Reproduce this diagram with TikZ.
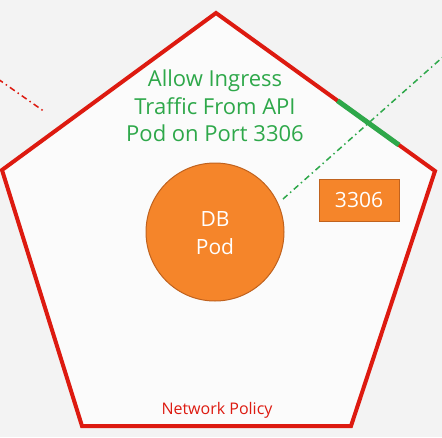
\documentclass[tikz,border=0pt]{standalone}
\usepackage{fontspec}
\setmainfont{Open Sans}
\usetikzlibrary{calc}
\definecolor{bg}{HTML}{F3F3F3}
\definecolor{inner}{HTML}{FBFBFB}
\definecolor{polred}{HTML}{DD1A10}
\definecolor{grn}{HTML}{2EA84A}
\definecolor{podor}{HTML}{F5852A}
\definecolor{podedge}{HTML}{C0621E}
\begin{document}
\begin{tikzpicture}[x=1pt,y=-1pt,
  lbl/.style={inner sep=0pt, align=center},
  dashdot/.style={dash pattern=on 6pt off 3.5pt on 1.5pt off 3.5pt, line width=1.5pt}]
\useasboundingbox (0,0) rectangle (442,437);
\fill[bg] (0,0) rectangle (442,437);
% pentagon
\coordinate (pt) at (216,13);
\coordinate (pr) at (435,171);
\coordinate (pbr) at (351,426);
\coordinate (pbl) at (82,426);
\coordinate (pl) at (2,170);
\draw[polred, fill=inner, line width=4pt, line join=miter] (pt) -- (pr) -- (pbr) -- (pbl) -- (pl) -- cycle;
% green port segment on edge
\coordinate (gs) at ($(pt)!0.555!(pr)$);
\coordinate (ge) at ($(pt)!0.835!(pr)$);
\draw[grn, line width=5pt] (gs) -- (ge);
% dash-dot lines
\coordinate (ga) at (283,199);
\coordinate (gb) at (444,56);
\draw[grn, dashdot] (ga) -- (gb);
\coordinate (ra) at (-2,79);
\coordinate (rb) at (45,112);
\draw[polred, dashdot] (ra) -- (rb);
% pod
\node[circle, minimum size=138pt, fill=podor, draw=podedge, line width=1pt, inner sep=0pt] (pod) at (215,232) {};
\node[lbl, text=white, font=\fontsize{21}{28}\selectfont] (podlbl) at (215,233) {DB\\Pod};
% port box
\node[draw=podedge, fill=podor, line width=1pt, minimum width=80pt, minimum height=42pt, inner sep=0pt, text=white, font=\fontsize{21}{24}\selectfont] (port) at (359,200) {3306};
% title
\node[lbl, text=grn, font=\fontsize{22}{27.5}\selectfont] (title) at (215,106) {Allow Ingress\\Traffic From API\\Pod on Port 3306};
\node[lbl, text=polred, font=\fontsize{16}{18}\selectfont] (np) at (217,410) {Network Policy};
\end{tikzpicture}
\end{document}
